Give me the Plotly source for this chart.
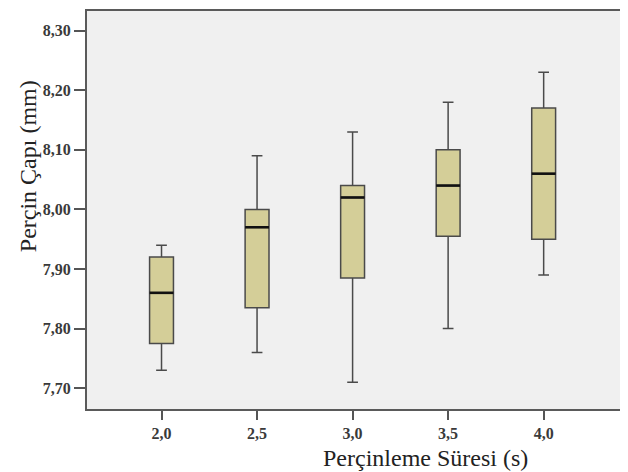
import plotly.graph_objects as go

# Data
durations = [2.0, 2.5, 3.0, 3.5, 4.0]          # Perçinleme Süresi (s)
lower_whisker = [7.73, 7.76, 7.71, 7.80, 7.89]
q1 = [7.775, 7.835, 7.885, 7.955, 7.95]
median = [7.86, 7.97, 8.02, 8.04, 8.06]
q3 = [7.92, 8.00, 8.04, 8.10, 8.17]
upper_whisker = [7.94, 8.09, 8.13, 8.18, 8.23]

y_ticks = [7.70, 7.80, 7.90, 8.00, 8.10, 8.20, 8.30]

BOX_W = 0.125
FILL = "#D4CE98"
EDGE = "#4a4a4a"

fig = go.Figure()
fig.add_trace(go.Box(
    x=durations,
    q1=q1, median=median, q3=q3,
    lowerfence=lower_whisker, upperfence=upper_whisker,
    width=BOX_W,
    whiskerwidth=0.45,
    fillcolor=FILL,
    line=dict(color=EDGE, width=1.5),
    boxpoints=False,
    showlegend=False,
    hoverinfo="skip",
))

# thicker black median lines
mx, my = [], []
for d, m in zip(durations, median):
    mx += [d - BOX_W / 2, d + BOX_W / 2, None]
    my += [m, m, None]
fig.add_trace(go.Scatter(x=mx, y=my, mode="lines",
                         line=dict(color="#111111", width=2.6),
                         showlegend=False, hoverinfo="skip"))

tick_font = dict(family="Liberation Serif", size=16, color="#3a3a3a")

# page body has an 8px margin; the figure is sized so it fills the window
fig.update_layout(
    width=620, height=464,
    margin=dict(l=79, r=6, t=1, b=63),
    paper_bgcolor="white",
    plot_bgcolor="#F0F0F0",
    separators=", ",
    showlegend=False,
    xaxis=dict(
        range=[1.61, 4.41],
        tickvals=durations,
        tickformat=".1f",
        ticks="outside", ticklen=9, tickwidth=1.5, tickcolor="#555555",
        tickfont=dict(tick_font, weight="bold"),
        showgrid=False, zeroline=False,
        showline=True, mirror=True, linecolor="#5a5a5a", linewidth=2,
    ),
    yaxis=dict(
        range=[7.665, 8.333],
        tickvals=y_ticks,
        tickformat=".2f",
        ticks="outside", ticklen=11, tickwidth=1.5, tickcolor="#555555",
        tickfont=dict(tick_font, weight="bold"),
        showgrid=False, zeroline=False,
        showline=True, mirror=True, linecolor="#5a5a5a", linewidth=2,
    ),
    annotations=[
        dict(text="Perçinleme Süresi (s)", xref="paper", yref="paper",
             x=(425 - 87) / 535, y=-(458 - 409) / 400, xanchor="center", yanchor="middle",
             showarrow=False, font=dict(family="Liberation Serif", size=24, color="#222222")),
        dict(text="Perçin Çapı (mm)", xref="paper", yref="paper",
             x=-(87 - 28) / 535, y=(409 - 165) / 400, xanchor="center", yanchor="middle",
             textangle=-90, showarrow=False,
             font=dict(family="Liberation Serif", size=24, color="#222222")),
    ],
)

fig.write_html("out.html")
